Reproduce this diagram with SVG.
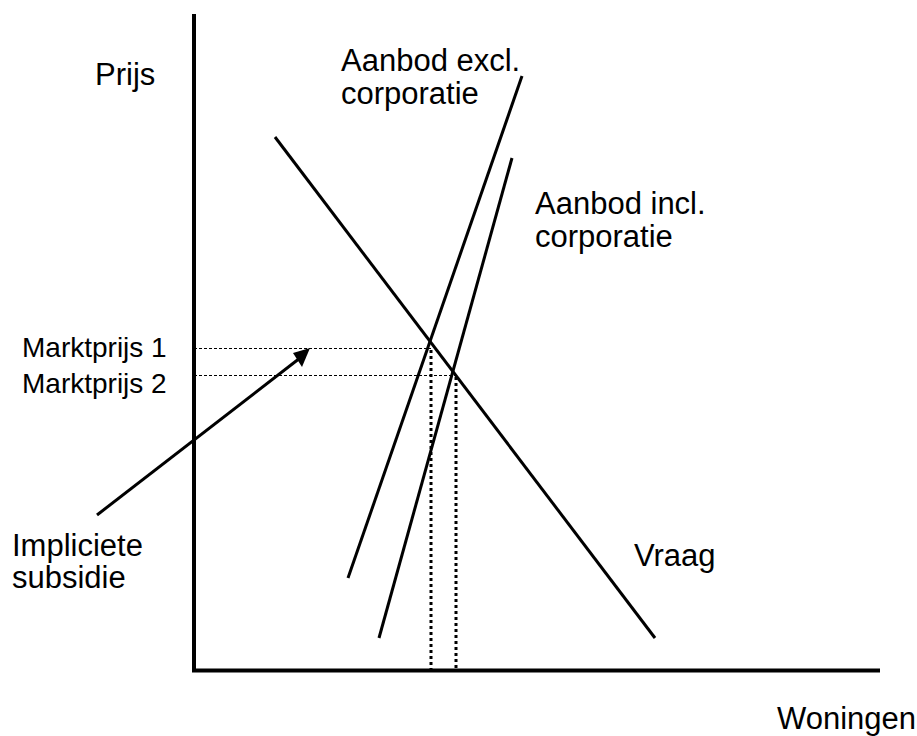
<svg xmlns="http://www.w3.org/2000/svg" width="917" height="736" viewBox="0 0 917 736">
<style>
text{font-family:"Liberation Sans",Arial,sans-serif;fill:#000}
.big{font-size:31px}
.mid{font-size:28px}
.ax{stroke:#000;stroke-width:4;fill:none}
.cur{stroke:#000;stroke-width:3;fill:none}
.hdot{stroke:#000;stroke-width:1;stroke-dasharray:3 2;fill:none}
.vdot{stroke:#000;stroke-width:3;stroke-dasharray:3 3;fill:none}
</style>
<rect width="917" height="736" fill="#fff"/>
<g id="axes">
<line class="ax" x1="194" y1="14" x2="194" y2="672"/>
<line class="ax" x1="192" y1="670.5" x2="880" y2="670.5"/>
</g>
<g id="connectors">
<line class="hdot" x1="194" y1="348.5" x2="431" y2="348.5"/>
<line class="hdot" x1="194" y1="375.5" x2="456" y2="375.5"/>
<line class="vdot" x1="431" y1="350" x2="431" y2="669"/>
<line class="vdot" x1="456" y1="377" x2="456" y2="669"/>
<line class="cur" x1="97" y1="515" x2="300" y2="358"/>
<polygon points="310,348 293,353 302,367" fill="#000"/>
</g>
<g id="vraag">
<line class="cur" x1="275" y1="137" x2="655" y2="638"/>
<text class="big" x="634" y="566">Vraag</text>
</g>
<g id="aanbod-excl">
<line class="cur" x1="348" y1="578" x2="522" y2="76"/>
<text class="big" x="341" y="71">Aanbod excl.</text>
<text class="big" x="341" y="104">corporatie</text>
</g>
<g id="aanbod-incl">
<line class="cur" x1="379" y1="638" x2="512" y2="158"/>
<text class="big" x="535" y="214">Aanbod incl.</text>
<text class="big" x="535" y="247">corporatie</text>
</g>
<g id="labels">
<text class="big" x="95" y="85">Prijs</text>
<text class="big" x="916" y="729" text-anchor="end">Woningen</text>
<text class="mid" x="22" y="357">Marktprijs 1</text>
<text class="mid" x="22" y="393">Marktprijs 2</text>
<text class="big" x="12" y="556">Impliciete</text>
<text class="big" x="12" y="588">subsidie</text>
</g>
</svg>
